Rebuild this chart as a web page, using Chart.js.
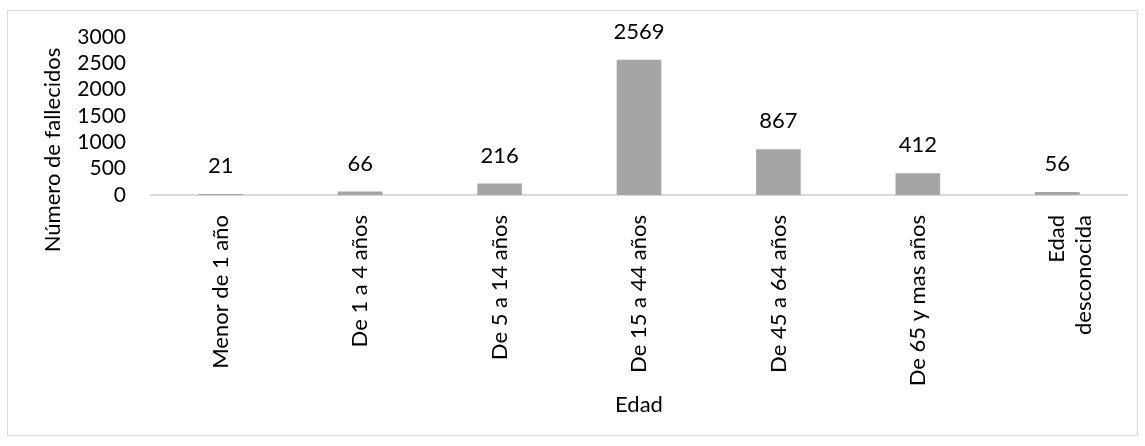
<!DOCTYPE html>
<html>
<head>
<meta charset="utf-8">
<script src="https://cdn.jsdelivr.net/npm/chart.js@4"></script>
<style>
  html, body { margin: 0; padding: 0; background: #fff; }
  #wrap { position: relative; width: 1145px; height: 446px; }
</style>
</head>
<body>
<div id="wrap"><canvas id="chart" width="1145" height="446"></canvas></div>
<script>
// Datos
const categorias = [
    'Menor de 1 año',
    'De 1 a 4 años',
    'De 5 a 14 años',
    'De 15 a 44 años',
    'De 45 a 64 años',
    'De 65 y mas años',
    ['Edad', 'desconocida']
];
const fallecidos = [21, 66, 216, 2569, 867, 412, 56];
const ticksY = [0, 500, 1000, 1500, 2000, 2500, 3000];
const tituloY = 'Número de fallecidos';

const fuente = 'Lato, "Open Sans", sans-serif';
const tam = 22;

// Marco exterior y título del eje vertical
const marco = {
    id: 'marco',
    beforeDraw(chart) {
        const ctx = chart.ctx;
        ctx.save();
        ctx.fillStyle = '#fff';
        ctx.fillRect(0, 0, chart.width, chart.height);
        ctx.strokeStyle = '#d9d9d9';
        ctx.lineWidth = 1;
        ctx.strokeRect(7.5, 10.5, 1130, 425);
        ctx.restore();
    },
    afterDraw(chart) {
        const ctx = chart.ctx;
        ctx.save();
        ctx.translate(53, 150);
        ctx.rotate(-Math.PI / 2);
        ctx.font = tam + 'px ' + fuente;
        ctx.fillStyle = '#000';
        ctx.textAlign = 'center';
        ctx.textBaseline = 'middle';
        ctx.fillText(tituloY, 0, 0);
        ctx.restore();
    }
};

// Etiquetas con el valor encima de cada barra
const etiquetas = {
    id: 'etiquetas',
    afterDatasetsDraw(chart) {
        const ctx = chart.ctx;
        const meta = chart.getDatasetMeta(0);
        ctx.save();
        ctx.font = tam + 'px ' + fuente;
        ctx.fillStyle = '#000';
        ctx.textAlign = 'center';
        ctx.textBaseline = 'middle';
        meta.data.forEach((bar, i) => {
            ctx.fillText(fallecidos[i], bar.x, bar.y - 28);
        });
        ctx.restore();
    }
};

new Chart(document.getElementById('chart'), {
    type: 'bar',
    data: {
        labels: categorias,
        datasets: [{
            data: fallecidos,
            backgroundColor: '#a5a5a5',
            categoryPercentage: 1,
            barPercentage: 0.32
        }]
    },
    options: {
        responsive: false,
        animation: false,
        layout: { padding: { left: 0, right: 18, top: 37, bottom: 0 } },
        plugins: {
            legend: { display: false },
            tooltip: { enabled: false }
        },
        scales: {
            x: {
                afterFit(axis) { axis.height = 251; },
                grid: { display: false },
                border: { display: true, color: '#d9d9d9', width: 2 },
                ticks: {
                    maxRotation: 90,
                    minRotation: 90,
                    autoSkip: false,
                    color: '#000',
                    font: { family: fuente, size: tam },
                    padding: 12
                },
                title: {
                    display: true,
                    text: 'Edad',
                    color: '#000',
                    font: { family: fuente, size: tam },
                    padding: { top: 0, bottom: 28 }
                }
            },
            y: {
                min: 0,
                max: 3000,
                afterFit(axis) { axis.width = 151; },
                afterBuildTicks(axis) {
                    axis.ticks = ticksY.map(v => ({ value: v }));
                },
                grid: { display: false },
                border: { display: false },
                ticks: {
                    autoSkip: false,
                    color: '#000',
                    font: { family: fuente, size: 21 },
                    padding: 17,
                    callback: v => String(v)
                }
            }
        }
    },
    plugins: [marco, etiquetas]
});
</script>
</body>
</html>
